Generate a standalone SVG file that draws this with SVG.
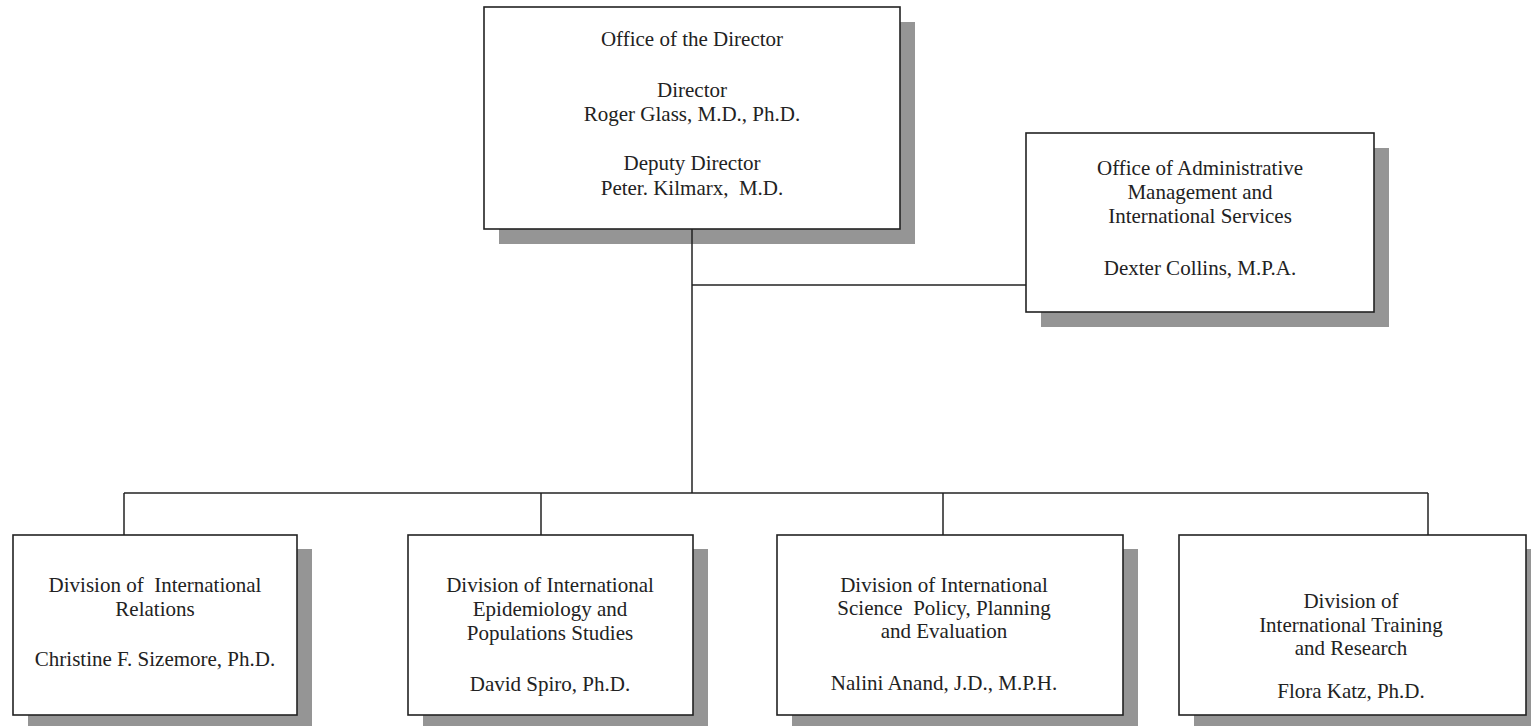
<svg xmlns="http://www.w3.org/2000/svg" width="1531" height="726" viewBox="0 0 1531 726">
<style>
.bg{fill:#ffffff}
.shadow{fill:#959595}
.box{fill:#ffffff;stroke:#222222;stroke-width:1.6}
.t{font-family:"Liberation Serif","Times New Roman",serif;font-size:21px;fill:#222222;text-anchor:middle}
.c{stroke:#222222;stroke-width:1.5;fill:none}
</style>
<rect class="bg" x="0" y="0" width="1531" height="726"/>
<g id="director">
<rect class="shadow" x="499" y="22" width="416" height="222"/>
<rect class="box" x="484" y="7" width="416" height="222"/>
<text class="t" x="692" y="46">Office of the Director</text>
<text class="t" x="692" y="97">Director</text>
<text class="t" x="692" y="121">Roger Glass, M.D., Ph.D.</text>
<text class="t" x="692" y="170">Deputy Director</text>
<text class="t" x="692" y="195" xml:space="preserve">Peter. Kilmarx,  M.D.</text>
</g>
<g id="admin">
<rect class="shadow" x="1041" y="148" width="348" height="179"/>
<rect class="box" x="1026" y="133" width="348" height="179"/>
<text class="t" x="1200" y="175">Office of Administrative</text>
<text class="t" x="1200" y="199">Management and</text>
<text class="t" x="1200" y="223">International Services</text>
<text class="t" x="1200" y="275">Dexter Collins, M.P.A.</text>
</g>
<g id="div-relations">
<rect class="shadow" x="28" y="549" width="284" height="182"/>
<rect class="box" x="13" y="535" width="284" height="180"/>
<text class="t" x="155" y="592" xml:space="preserve">Division of  International</text>
<text class="t" x="155" y="616">Relations</text>
<text class="t" x="155" y="666">Christine F. Sizemore, Ph.D.</text>
</g>
<g id="div-epidemiology">
<rect class="shadow" x="423" y="549" width="285" height="182"/>
<rect class="box" x="408" y="535" width="285" height="180"/>
<text class="t" x="550" y="592">Division of International</text>
<text class="t" x="550" y="616">Epidemiology and</text>
<text class="t" x="550" y="640">Populations Studies</text>
<text class="t" x="550" y="691">David Spiro, Ph.D.</text>
</g>
<g id="div-policy">
<rect class="shadow" x="792" y="549" width="346" height="182"/>
<rect class="box" x="777" y="535" width="346" height="180"/>
<text class="t" x="944" y="592">Division of International</text>
<text class="t" x="944" y="615" xml:space="preserve">Science  Policy, Planning</text>
<text class="t" x="944" y="638">and Evaluation</text>
<text class="t" x="944" y="690">Nalini Anand, J.D., M.P.H.</text>
</g>
<g id="div-training">
<rect class="shadow" x="1194" y="549" width="347" height="182"/>
<rect class="box" x="1179" y="535" width="347" height="180"/>
<text class="t" x="1351" y="608">Division of</text>
<text class="t" x="1351" y="632">International Training</text>
<text class="t" x="1351" y="655">and Research</text>
<text class="t" x="1351" y="698">Flora Katz, Ph.D.</text>
</g>
<g id="connectors">
<path class="c" d="M692 229 V493"/>
<path class="c" d="M692 285 H1026"/>
<path class="c" d="M124 493 H1428"/>
<path class="c" d="M124 493 V535"/>
<path class="c" d="M541 493 V535"/>
<path class="c" d="M943 493 V535"/>
<path class="c" d="M1428 493 V535"/>
</g>
</svg>
